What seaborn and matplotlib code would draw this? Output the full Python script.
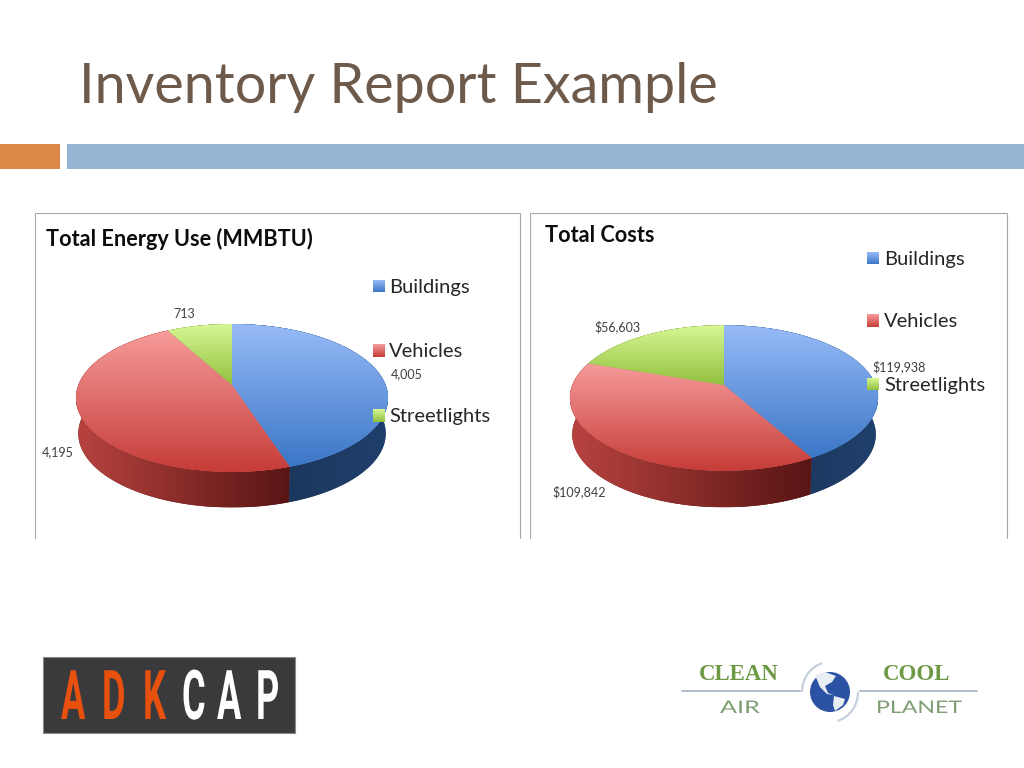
import numpy as np
import matplotlib
matplotlib.use("Agg")
import matplotlib.pyplot as plt
import seaborn as sns
from matplotlib.patches import Polygon, Rectangle, Circle, Arc
from matplotlib.path import Path
from matplotlib.patheffects import AbstractPathEffect
from matplotlib.transforms import Transform, Affine2D

# ---- data ----
categories = ["Buildings", "Vehicles", "Streetlights"]
energy_values = [4005, 4195, 713]
cost_values = [119938, 109842, 56603]
energy_labels = ["4,005", "4,195", "713"]
cost_labels = ["$119,938", "$109,842", "$56,603"]
slide_title = "Inventory Report Example"
energy_title = "Total Energy Use (MMBTU)"
cost_title = "Total Costs"

# ---- styles ----
top_grad = {"Buildings": ("#97bbf7", "#3b76c6"),
            "Vehicles": ("#f69c9b", "#c63c38"),
            "Streetlights": ("#d6f794", "#92c03e")}
side_grad = {"Buildings": ("#1a3355", "#1f3f6c"),
             "Vehicles": ("#b8433f", "#581514"),
             "Streetlights": ("#7d9c30", "#55701c")}

sns.set_theme(style="white")
plt.rcParams["font.family"] = ["Lato", "DejaVu Sans"]

fig = plt.figure(figsize=(10.24, 7.68), dpi=100, facecolor="white")


class Perspective(Transform):
    """Tilted-disc projection: unit circle -> pixel offsets from the pie's apex."""
    input_dims = 2
    output_dims = 2
    is_affine = False

    def __init__(self, a, b, k):
        super().__init__()
        self.a, self.b, self.k = a, b, k

    def transform_non_affine(self, values):
        values = np.asarray(values, dtype=float)
        w = 1 + self.k * values[:, 1]
        return np.column_stack([self.a * values[:, 0] / w, self.b * values[:, 1] / w])

    def transform_path_non_affine(self, path):
        polys = path.to_polygons(Affine2D().scale(2000), closed_only=True)
        pts = polys[0] / 2000
        return Path(self.transform_non_affine(pts), closed=True)


class Stretch(AbstractPathEffect):
    """Stretch glyph outlines while the text stays real text."""

    def __init__(self, sx=1.0, sy=1.0):
        super().__init__()
        self.sx, self.sy = sx, sy

    def draw_path(self, renderer, gc, tpath, affine, rgbFace=None):
        renderer.draw_path(gc, tpath, Affine2D().scale(self.sx, self.sy) + affine, rgbFace)


def gradient(ax, colors, extent, clip, horizontal=False, zorder=3):
    pal = np.array(sns.blend_palette(colors, n_colors=256))[:, :3]
    arr = pal[np.newaxis, :, :] if horizontal else pal[:, np.newaxis, :]
    im = ax.imshow(arr, extent=extent, origin="upper", aspect="auto",
                   interpolation="bilinear", zorder=zorder)
    if clip is not None:
        im.set_clip_path(clip)
    return im


def pie3d(values, cx, apex_y, a, b, k, depth):
    xspan, up, down = 175, 70, 135
    ax = fig.add_axes([(cx - xspan) / 1024, 1 - (apex_y + down) / 768,
                       2 * xspan / 1024, (up + down) / 768])
    ax.patch.set_alpha(0)
    proj = Perspective(a, b, k)
    wedges, _ = ax.pie(values, startangle=90, counterclock=False, radius=1,
                       colors=[top_grad[c][1] for c in categories])
    fracs = np.cumsum([0] + list(values)) / np.sum(values)
    for i, (w, cat) in enumerate(zip(wedges, categories)):
        # side wall of this slice
        th = np.radians(90 - 360 * np.linspace(fracs[i], fracs[i + 1], 200))
        arc = proj.transform_non_affine(np.column_stack([np.cos(th), np.sin(th)]))
        low = arc * [0.985, 1.0] - [0, depth]
        side = Polygon(np.vstack([arc, low[::-1]]), closed=True, fc=side_grad[cat][1],
                       ec="none", transform=ax.transData, zorder=1)
        ax.add_patch(side)
        gradient(ax, side_grad[cat],
                 (arc[:, 0].min(), arc[:, 0].max(), low[:, 1].min(), arc[:, 1].max()),
                 side, horizontal=True, zorder=1.5)
    for w, cat in zip(wedges, categories):
        w.set_transform(proj + ax.transData)
        w.set_zorder(2)
        w.set_edgecolor("none")
        verts = (proj + Affine2D()).transform_path(w.get_path()).vertices
        gradient(ax, top_grad[cat],
                 (verts[:, 0].min(), verts[:, 0].max(), verts[:, 1].min(), verts[:, 1].max()),
                 w, zorder=3)
    ax.set_xlim(-xspan, xspan)
    ax.set_ylim(-down, up)
    ax.set_aspect("auto")
    ax.set_axis_off()
    return ax


pie3d(energy_values, 232, 385, 153.6, 71.7, 0.1756, 35.5)
pie3d(cost_values, 724, 385, 151.6, 70.5, 0.178, 36.5)

# ---- overlay in pixel coordinates ----
ov = fig.add_axes([0, 0, 1, 1], zorder=10)
ov.patch.set_alpha(0)

# slide furniture
ov.add_patch(Rectangle((0, 144), 60, 25, fc="#dd8747", ec="none"))
ov.add_patch(Rectangle((67, 144), 957, 25, fc="#94b6d2", ec="none"))
ov.text(79, 103, slide_title, fontsize=40.1, color="#6e5a4b", ha="left", va="baseline")

# chart frames, open at the bottom
for x0, x1 in [(35, 520), (530, 1007)]:
    ov.plot([x0, x0, x1, x1], [538, 213, 213, 538], color="#a8a8a8", lw=0.8,
            solid_joinstyle="miter")

ov.text(46, 239, energy_title, fontsize=15.6, fontweight="bold", color="#0c0c0c",
        ha="left", va="center")
ov.text(545, 235, cost_title, fontsize=15.6, fontweight="bold", color="#0c0c0c",
        ha="left", va="center")


def legend(x_box, x_text, ys):
    for cat, (y0, y1) in zip(categories, ys):
        gradient(ov, top_grad[cat], (x_box, x_box + 12, y1, y0), None, zorder=5)
        ov.text(x_text, (y0 + y1) / 2 + 1, cat, fontsize=14.5, color="#262626",
                ha="left", va="center", zorder=6)


legend(373, 389, [(280, 292), (344, 357), (409, 422)])
legend(867, 884, [(252, 264), (314, 327), (378, 390)])

for txt, x, y in zip(energy_labels, [407, 58, 184], [374, 452, 314]):
    ov.text(x, y, txt, fontsize=9, color="#404040", ha="center", va="center")
for txt, x, y in zip(cost_labels, [899, 579, 617], [367, 492, 327]):
    ov.text(x, y, txt, fontsize=9, color="#404040", ha="center", va="center")

# ADKCAP logo
ov.add_patch(Rectangle((43, 657), 252, 76, fc="#3a3a3c", ec="#8a8a8a", lw=0.8))
for ch, x, col in zip("ADKCAP", [61, 102, 143, 182, 217, 256],
                      ["#e8500e"] * 3 + ["#ffffff"] * 3):
    ov.text(x, 719, ch, fontsize=26, fontweight="bold", color=col, ha="left",
            va="baseline", family=["Roboto", "DejaVu Sans"],
            path_effects=[Stretch(sy=1.9)])

# Clean Air Cool Planet logo
ov.plot([682, 800], [691, 691], color="#a9b8c6", lw=1.3)
ov.plot([860, 977], [691, 691], color="#a9b8c6", lw=1.3)
serif = ["Liberation Serif", "DejaVu Serif"]
ov.text(739, 675, "CLEAN", fontsize=16.5, fontweight="bold", color="#6f9a45",
        ha="center", va="center", family=serif)
ov.text(917, 675, "COOL", fontsize=16.5, fontweight="bold", color="#6f9a45",
        ha="center", va="center", family=serif)
ov.text(720, 713, "AIR", fontsize=12.5, color="#7f9c73", ha="left", va="baseline",
        path_effects=[Stretch(sx=1.45)])
ov.text(876, 713, "PLANET", fontsize=12.5, color="#7f9c73", ha="left", va="baseline",
        path_effects=[Stretch(sx=1.33)])
ov.add_patch(Circle((830, 692), 20, fc="#2c52a3", ec="none"))
ov.add_patch(Polygon([(815, 675), (825, 672), (836, 676), (832, 682), (825, 686),
                      (828, 693), (834, 695), (827, 694), (820, 687)],
                     fc="#e8eef2", ec="none"))
ov.add_patch(Polygon([(834, 696), (845, 699), (843, 705), (835, 711), (833, 705)],
                     fc="#e8eef2", ec="none"))
ov.add_patch(Arc((830, 692), 56, 60, theta1=180, theta2=255, color="#c5d0dc", lw=1.6))
ov.add_patch(Arc((830, 692), 56, 60, theta1=0, theta2=75, color="#c5d0dc", lw=1.6))

ov.set_xlim(0, 1024)
ov.set_ylim(768, 0)
ov.set_aspect("auto")
ov.set_axis_off()

fig.savefig("out.png", dpi=100, facecolor="white")
